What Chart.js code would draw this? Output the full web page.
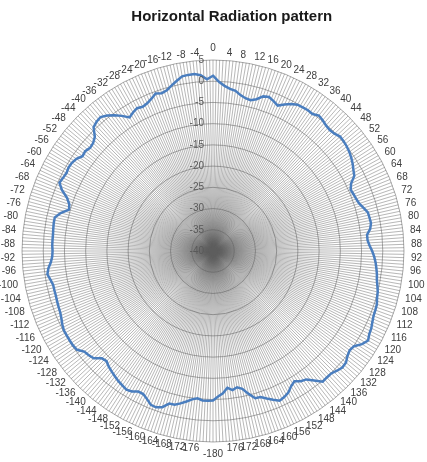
<!DOCTYPE html>
<html>
<head>
<meta charset="utf-8">
<script src="https://cdn.jsdelivr.net/npm/chart.js@4/dist/chart.umd.min.js"></script>
<style>
  html, body { margin: 0; padding: 0; background: #fff; }
  #wrap { width: 427px; height: 462px; }
</style>
</head>
<body>
<div id="wrap"><canvas id="radiation" width="427" height="462"></canvas></div>
<script>
// Gain (dB), 2 degree steps, going clockwise 0 -> 180
const gainPos = [
   1.3, -0.1, -1.0, -1.6, -1.9, -2.7, -3.2, -3.4, -2.8, -1.7,   // 0..18
  -1.4, -1.9, -2.5, -1.6, -0.8, -0.2, -0.1,  0.0, -0.1,  0.5,   // 20..38
   0.2, -0.2, -0.4, -0.2,  0.3,  0.2,  0.0, -0.3, -0.7, -1.2,   // 40..58
  -1.8, -2.3, -3.8, -4.5, -4.3, -4.1, -3.8, -3.1, -2.4, -2.3,   // 60..78
  -2.2, -2.6, -3.5, -3.5, -3.1, -2.5, -2.0, -1.6, -1.3, -1.0,   // 80..98
  -0.8, -0.4,  0.0,  0.2,  0.6,  0.7,  0.8,  1.1,  1.5,  1.7,   // 100..118
   2.2,  1.4,  0.1, -0.2,  0.2,  0.9,  1.0,  0.6,  0.1,  0.1,   // 120..138
   0.2, -1.3, -2.6, -3.0, -3.8, -3.2, -2.2, -1.7, -1.4, -2.2,   // 140..158
  -3.0, -3.8, -3.9, -5.3, -6.8, -7.4, -6.9, -7.6, -6.4, -5.7,   // 160..178
  -4.8                                                          // 180
];
// going counter-clockwise -2 -> -178
const gainNeg = [
   0.5,  1.5,  1.9,  1.9,  1.8,  1.0,  0.2, -0.6, -0.9, -0.5,   // -2..-20
  -1.3, -1.9, -2.2, -1.9, -2.3, -2.9, -1.6, -0.5,  0.5,  1.2,   // -22..-40
   1.0,  0.5, -1.3, -2.0, -2.2, -1.8, -2.0, -1.2, -0.8, -0.7,   // -42..-60
  -0.9, -0.7, -0.4, -1.6, -3.4, -4.4, -4.7, -3.0, -1.9, -1.9,   // -62..-80
  -2.0, -2.1, -2.1, -2.1, -2.2, -2.1, -1.7, -1.0, -0.6, -1.1,   // -82..-100
  -1.5, -1.5, -1.5, -1.4, -1.3, -1.2, -0.9, -0.5, -0.2, -0.2,   // -102..-120
  -0.2, -0.2, -0.4, -1.5, -1.8, -2.2, -3.6, -3.9, -3.3, -2.9,   // -122..-140
  -2.5, -2.1, -1.8, -1.5, -1.8, -2.5, -2.5, -1.8, -0.9, -0.8,   // -142..-160
  -1.3, -2.6, -2.7, -3.3, -4.0, -4.7, -5.1, -4.7, -4.7          // -162..-178
];

// radial axis ticks (dB)
const radialTicks = [5, 0, -5, -10, -15, -20, -25, -30, -35, -40];

// one category per degree, shown as 0..179, -180..-1
const angles = [];
for (let a = 0; a < 360; a++) angles.push(a < 180 ? a : a - 360);

// gain values sit on every second degree, the rest are gaps
const gain = angles.map((ang, i) => {
    if (i % 2 !== 0) return null;
    if (i <= 180) return gainPos[i / 2];
    return gainNeg[(360 - i) / 2 - 1];
});

const labelFont = '10px "Liberation Sans", Arial, sans-serif';

// Excel style labels: dB values left of the vertical axis,
// angle labels every 4 degrees, set beside the rim rather than stacked
const rimLabels = {
    id: 'rimLabels',
    afterDatasetsDraw(chart) {
        const scale = chart.scales.r;
        const ctx = chart.ctx;
        ctx.save();
        ctx.font = labelFont;

        ctx.fillStyle = '#595959';
        ctx.textAlign = 'right';
        ctx.textBaseline = 'middle';
        radialTicks.forEach(v => {
            const d = scale.getDistanceFromCenterForValue(v);
            ctx.fillText(String(v), scale.xCenter - 9, scale.yCenter - d);
        });

        ctx.fillStyle = '#404040';
        angles.forEach((ang, i) => {
            if (i % 4 !== 0) return;
            const p = scale.getPointPosition(i, scale.drawingArea + 7);
            const s = Math.sin(scale.getIndexAngle(i));
            if (i === 0) {
                ctx.textAlign = 'center';
                ctx.textBaseline = 'bottom';
            } else if (i === 180) {
                ctx.textAlign = 'center';
                ctx.textBaseline = 'top';
            } else {
                ctx.textAlign = s > 0 ? 'left' : 'right';
                ctx.textBaseline = 'middle';
            }
            ctx.fillText(String(ang), p.x, p.y);
        });
        ctx.restore();
    }
};

new Chart(document.getElementById('radiation'), {
    type: 'radar',
    data: {
        labels: angles,
        datasets: [{
            label: 'Gain',
            data: gain,
            spanGaps: true,
            borderColor: '#4a7ebf',
            borderWidth: 2.5,
            backgroundColor: 'transparent',
            fill: false,
            pointRadius: 0,
            pointHoverRadius: 0,
            tension: 0
        }]
    },
    options: {
        responsive: false,
        animation: false,
        layout: { padding: { left: 22, right: 23, top: 0, bottom: 11 } },
        plugins: {
            legend: { display: false },
            tooltip: { enabled: false },
            title: {
                display: true,
                // leading spaces push the title right of centre as in the original
                text: '\u00a0'.repeat(9) + 'Horizontal Radiation pattern',
                color: '#1a1a1a',
                font: { family: '"Liberation Sans", Arial, sans-serif', size: 15, weight: 'bold' },
                padding: { top: 8, bottom: 25 }
            }
        },
        scales: {
            r: {
                min: -40,
                max: 5,
                ticks: { stepSize: 5, display: false },
                grid: { color: '#aaaaaa', lineWidth: 1, circular: true },
                angleLines: { color: '#5e5e5e', lineWidth: 0.45 },
                pointLabels: { display: false }
            }
        }
    },
    plugins: [rimLabels]
});
</script>
</body>
</html>
